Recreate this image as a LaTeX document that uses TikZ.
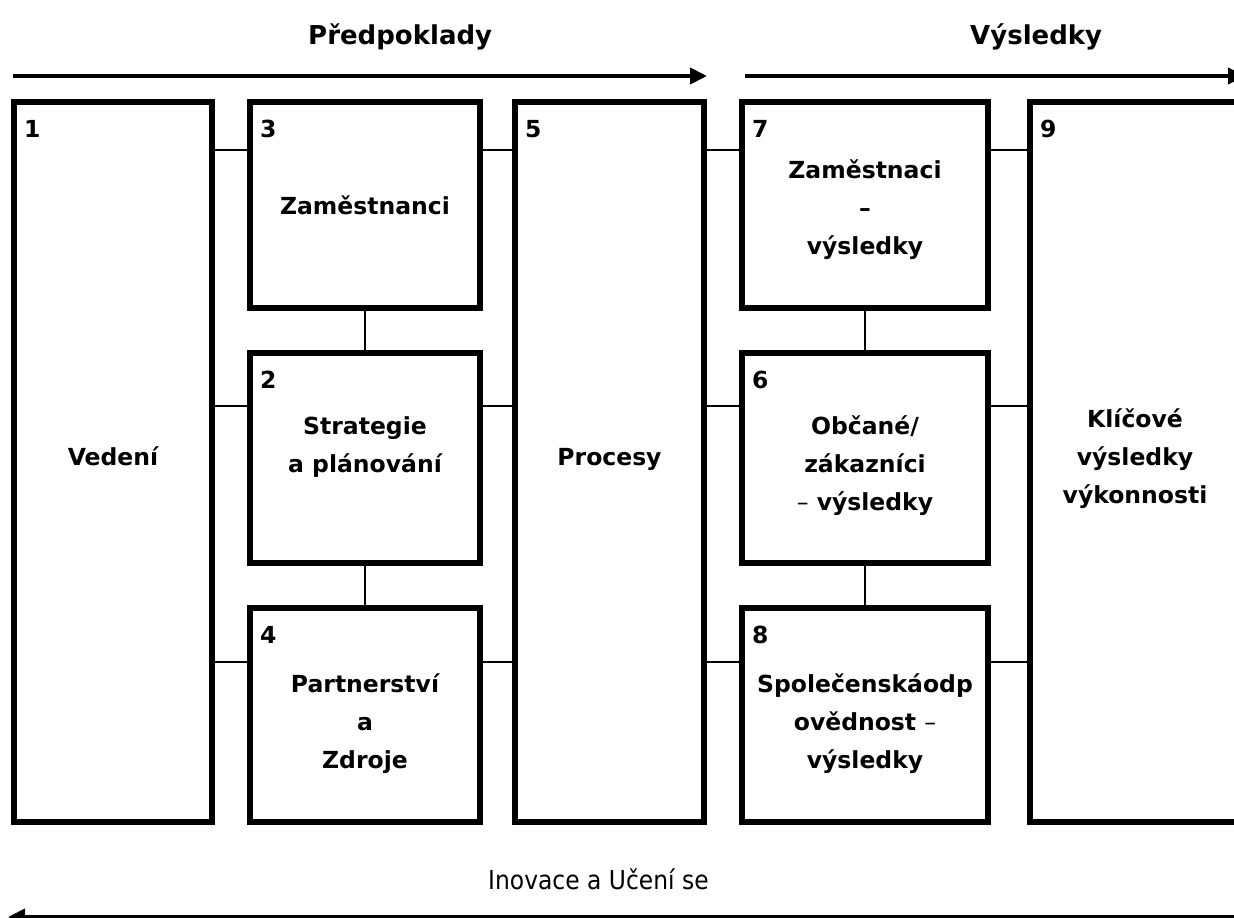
\documentclass[tikz,border=0pt]{standalone}
\usepackage{fontspec}
\setmainfont{DejaVu Sans}
\newfontfamily\narrowfont[FakeStretch=0.9]{DejaVu Sans}
\usetikzlibrary{arrows.meta,calc}
\begin{document}
\begin{tikzpicture}[x=1pt,y=-1pt,
  box/.style={draw,line width=6pt,inner sep=0pt,outer sep=0pt,fill=none},
  conn/.style={draw,line width=2pt},
  flow/.style={draw,line width=4pt,-{Triangle[length=17pt,width=16pt]}},
  txt/.style={anchor=base,inner sep=0pt,font=\fontsize{23.5}{38}\selectfont\bfseries},
  num/.style={anchor=base west,inner sep=0pt,font=\fontsize{23.5}{38}\selectfont\bfseries},
  head/.style={anchor=base west,inner sep=0pt,font=\fontsize{26}{30}\selectfont\bfseries},
  foot/.style={anchor=base west,inner sep=0pt,font=\narrowfont\fontsize{26}{30}\selectfont}]
\useasboundingbox (0,0) rectangle (1234,918);
\fill[white] (0,0) rectangle (1234,918);
\begin{scope}
\clip (0,0) rectangle (1234,918);
% boxes
\node[box,minimum width=198pt,minimum height=720pt] (b1) at (113,462) {};
\node[box,minimum width=230pt,minimum height=206pt] (b3) at (365,205) {};
\node[box,minimum width=230pt,minimum height=210pt] (b2) at (365,458) {};
\node[box,minimum width=230pt,minimum height=214pt] (b4) at (365,715) {};
\node[box,minimum width=189pt,minimum height=720pt] (b5) at (609.5,462) {};
\node[box,minimum width=246pt,minimum height=206pt] (b7) at (865,205) {};
\node[box,minimum width=246pt,minimum height=210pt] (b6) at (865,458) {};
\node[box,minimum width=246pt,minimum height=214pt] (b8) at (865,715) {};
\node[box,minimum width=220pt,minimum height=720pt] (b9) at (1140,462) {};
% connector rows
\coordinate (r1) at ($(b3.north)+(0,48)$);
\coordinate (r2) at ($(b2.north)+(0,53)$);
\coordinate (r3) at ($(b4.north)+(0,54)$);
\draw[conn] (b1.east |- r1) -- (b3.west |- r1);
\draw[conn] (b3.east |- r1) -- (b5.west |- r1);
\draw[conn] (b5.east |- r1) -- (b7.west |- r1);
\draw[conn] (b7.east |- r1) -- (b9.west |- r1);
\draw[conn] (b1.east |- r2) -- (b2.west |- r2);
\draw[conn] (b2.east |- r2) -- (b5.west |- r2);
\draw[conn] (b5.east |- r2) -- (b6.west |- r2);
\draw[conn] (b6.east |- r2) -- (b9.west |- r2);
\draw[conn] (b1.east |- r3) -- (b4.west |- r3);
\draw[conn] (b4.east |- r3) -- (b5.west |- r3);
\draw[conn] (b5.east |- r3) -- (b8.west |- r3);
\draw[conn] (b8.east |- r3) -- (b9.west |- r3);
\draw[conn] (b3.south) -- (b2.north);
\draw[conn] (b2.south) -- (b4.north);
\draw[conn] (b7.south) -- (b6.north);
\draw[conn] (b6.south) -- (b8.north);
% numbers
\node[num] (n1) at ($(b1.north west)+(10,35)$) {1};
\node[num] (n3) at ($(b3.north west)+(10,35)$) {3};
\node[num] (n2) at ($(b2.north west)+(10,35)$) {2};
\node[num] (n4) at ($(b4.north west)+(10,35)$) {4};
\node[num] (n5) at ($(b5.north west)+(10,35)$) {5};
\node[num] (n7) at ($(b7.north west)+(10,35)$) {7};
\node[num] (n6) at ($(b6.north west)+(10,35)$) {6};
\node[num] (n8) at ($(b8.north west)+(10,35)$) {8};
\node[num] (n9) at ($(b9.north west)+(10,35)$) {9};
% texts
\node[txt] (t1) at (113,465) {Vedení};
\node[txt] (t3) at (365,214) {Zaměstnanci};
\node[txt] (t2a) at (365,434) {Strategie};
\node[txt] (t2b) at (365,472) {a plánování};
\node[txt] (t4a) at (365,692) {Partnerství};
\node[txt] (t4b) at (365,730) {a};
\node[txt] (t4c) at (365,768) {Zdroje};
\node[txt] (t5) at (609.5,465) {Procesy};
\node[txt] (t7a) at (865,178) {Zaměstnaci};
\node[txt] (t7b) at (865,216) {–};
\node[txt] (t7c) at (865,254) {výsledky};
\node[txt] (t6a) at (865,434) {Občané/};
\node[txt] (t6b) at (865,472) {zákazníci};
\node[txt] (t6c) at (865,510) {{\mdseries –} výsledky};
\node[txt] (t8a) at (865,692) {Společenskáodp};
\node[txt] (t8b) at (865,730) {ovědnost {\mdseries –}};
\node[txt] (t8c) at (865,768) {výsledky};
\node[txt] (t9a) at (1135,427) {Klíčové};
\node[txt] (t9b) at (1135,465) {výsledky};
\node[txt] (t9c) at (1135,503) {výkonnosti};
% headings and flow arrows
\node[head] (h1) at (308,44) {Předpoklady};
\node[head] (h2) at (970,44) {Výsledky};
\node[foot] (f1) at (488,889) {Inovace a Učení se};
\coordinate (a1s) at (13,76);
\coordinate (a1e) at (707,76);
\coordinate (a2s) at (745,76);
\coordinate (a2e) at (1245,76);
\coordinate (a3s) at (1245,917);
\coordinate (a3e) at (8,917);
\draw[flow] (a1s) -- (a1e);
\draw[flow] (a2s) -- (a2e);
\draw[flow] (a3s) -- (a3e);
\end{scope}
\end{tikzpicture}
\end{document}
